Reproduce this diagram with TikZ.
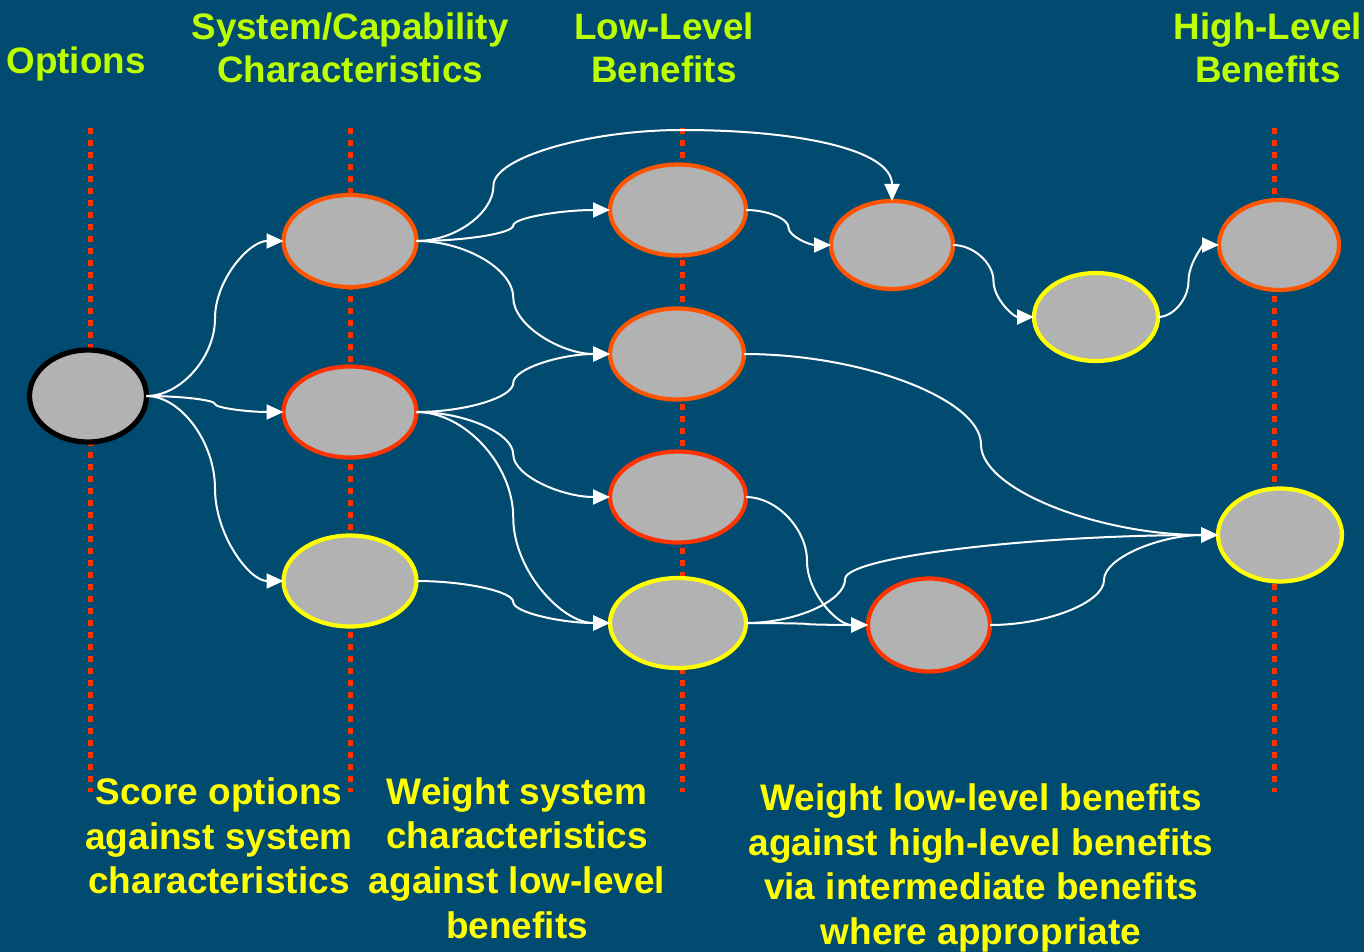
\documentclass[tikz,border=0pt]{standalone}
\usepackage{fontspec}
\setmainfont{Liberation Sans}
\usetikzlibrary{shapes.geometric,arrows.meta,calc}

\definecolor{bgblue}{RGB}{1,75,112}
\definecolor{headgreen}{RGB}{190,255,0}
\definecolor{capyellow}{RGB}{255,255,0}
\definecolor{nodegray}{RGB}{178,178,178}
\definecolor{rimorange}{RGB}{255,85,0}
\definecolor{rimred}{RGB}{255,51,0}
\definecolor{rimyellow}{RGB}{255,255,0}
\definecolor{guide}{RGB}{255,51,0}

% elbow-style curved connector: horizontal at both ends, vertical at a
% fraction #2 of the horizontal span between start #3 and end #4
\newcommand\pcurve[4][]{%
  \pgfmathsetmacro\pcA{#2/2}%
  \pgfmathsetmacro\pcB{(1+#2)/2}%
  \path (#3) -- (#4)
    coordinate[pos=\pcA] (pcc1) coordinate[pos=#2] (pcm)
    coordinate[pos=.25] (pcy1) coordinate[pos=.5] (pcy2)
    coordinate[pos=.75] (pcy3) coordinate[pos=\pcB] (pcc4);
  \draw[link,#1] (#3) .. controls (pcc1 |- #3) and (pcm |- pcy1) .. (pcm |- pcy2)
    .. controls (pcm |- pcy3) and (pcc4 |- #4) .. (#4);
}

\begin{document}
\begin{tikzpicture}[x=0.5pt,y=-0.5pt,
  item/.style={ellipse, fill=nodegray, inner sep=0pt, outer sep=0pt, line width=2.1pt},
  sz/.style 2 args={minimum width=#1, minimum height=#2},
  orng/.style={item, draw=rimorange},
  redd/.style={item, draw=rimred},
  ylw/.style={item, draw=rimyellow},
  link/.style={draw=white, line width=1pt, -{Triangle[length=8.5pt,width=7.5pt]}},
  guideline/.style={draw=guide, line width=2.5pt, dash pattern=on 3pt off 3pt},
  head/.style={text=headgreen, font=\bfseries\fontsize{18.4}{21.5}\selectfont, align=center, inner sep=0pt},
  note/.style={text=capyellow, font=\bfseries\fontsize{18.5}{22.3}\selectfont, align=center, inner sep=0pt}]

  \fill[bgblue] (0,0) rectangle (1364,952);
  \useasboundingbox (0,0) rectangle (1364,952);

  % column guides
  \foreach \gx/\gn in {90/ga,350/gb,682/gc,1274/gd}{
    \coordinate (\gn top) at (\gx,128);
    \coordinate (\gn bot) at (\gx,792);
    \draw[guideline] (\gn top) -- (\gn bot);
  }

  % column headings
  \node[head] (hopt) at (76,64) {Options};
  \node[head] (hsys) at (350,48) {System/Capability\\Characteristics};
  \node[head] (hlow) at (664,48) {Low-Level\\Benefits};
  \node[head] (hhigh) at (1268,48) {High-Level\\Benefits};

  % nodes
  \node[item, draw=black, line width=2.6pt, sz={58.5pt}{46pt}] (opt) at (88,396) {};
  \node[orng, sz={66.5pt}{46pt}] (s1) at (350,241) {};
  \node[redd, sz={66.5pt}{45.5pt}] (s2) at (350,412) {};
  \node[ylw,  sz={66.5pt}{45.5pt}] (s3) at (350,581) {};
  \node[orng, sz={68pt}{45.5pt}] (l1) at (678,210) {};
  \node[orng, sz={67pt}{45.5pt}] (l2) at (677,354) {};
  \node[redd, sz={68pt}{45.5pt}] (l3) at (678,497) {};
  \node[ylw,  sz={68pt}{45pt}]   (l4) at (678,623) {};
  \node[orng, sz={61pt}{44pt}]   (n1) at (892,245) {};
  \node[ylw,  sz={62pt}{44pt}]   (y1) at (1096,317) {};
  \node[redd, sz={61pt}{46.5pt}] (n2) at (929,625) {};
  \node[orng, sz={60pt}{45pt}]   (h1) at (1279,245) {};
  \node[ylw,  sz={62pt}{46.5pt}] (h2) at (1280,535) {};

  % connectors
  \pcurve{0.5}{opt.east}{s1.west}
  \pcurve{0.5}{opt.east}{s2.west}
  \pcurve{0.5}{opt.east}{s3.west}
  \pcurve{0.5}{s1.east}{l1.west}
  \pcurve{0.5}{s1.east}{l2.west}
  \coordinate (apex) at (682,130);
  \pcurve[-]{0.29}{s1.east}{apex}
  \draw[link] (apex) .. controls (800,130) and (892,150) .. (n1.north);
  \pcurve{0.5}{s2.east}{l2.west}
  \pcurve{0.5}{s2.east}{l3.west}
  \pcurve{0.5}{s2.east}{l4.west}
  \pcurve{0.5}{s3.east}{l4.west}
  \pcurve{0.5}{l1.east}{n1.west}
  \pcurve{0.5}{n1.east}{y1.west}
  \pcurve{0.5}{y1.east}{h1.west}
  \pcurve{0.5}{l2.east}{h2.west}
  \pcurve{0.5}{l3.east}{n2.west}
  \pcurve{0.5}{l4.east}{n2.west}
  \pcurve{0.21}{l4.east}{h2.west}
  \pcurve{0.5}{n2.east}{h2.west}

  % step notes
  \node[note] (t1) at (219,836) {Score options\\against system\\characteristics};
  \node[note] (t2) at (517,858) {Weight system\\characteristics\\against low-level\\benefits};
  \node[note] (t3) at (981,868) {Weight low-level benefits\\against high-level benefits\\via intermediate benefits\\where appropriate};
\end{tikzpicture}
\end{document}
